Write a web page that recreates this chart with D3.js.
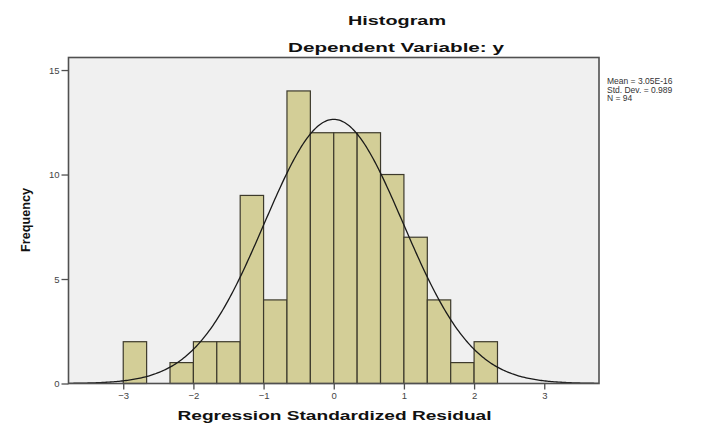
<!DOCTYPE html>
<html>
<head>
<meta charset="utf-8">
<script src="https://cdn.jsdelivr.net/npm/d3@7"></script>
<style>
  body { margin: 0; background: #ffffff; }
  svg text { font-family: Arial, "Liberation Sans", sans-serif; }
</style>
</head>
<body>
<svg id="chart" width="714" height="423"></svg>
<script>
// histogram bins (lower edge, upper edge) and counts
const binLow  = [-3, -8/3, -7/3, -2, -5/3, -4/3, -1, -2/3, -1/3, 0, 1/3, 2/3, 1, 4/3, 5/3, 2];
const binHigh = [-8/3, -7/3, -2, -5/3, -4/3, -1, -2/3, -1/3, 0, 1/3, 2/3, 1, 4/3, 5/3, 2, 7/3];
const counts  = [2, 0, 1, 2, 2, 9, 4, 14, 12, 12, 12, 10, 7, 4, 1, 2];

const xTicks = [-3, -2, -1, 0, 1, 2, 3];
const yTicks = [0, 5, 10, 15];

const statMean = 3.05e-16;
const statSd = 0.989;
const statN = 94;
const statLines = ["Mean = 3.05E-16", "Std. Dev. = 0.989", "N = 94"];

let chart = d3.select("#chart");

// plot frame
let plotLeft = 68.5, plotRight = 599, plotTop = 57.5, plotBottom = 383.5;

let x = d3.scaleLinear()
    .domain([-3.78, 3.78])
    .range([plotLeft, plotRight]);

let y = d3.scaleLinear()
    .domain([0, 15.6])
    .range([plotBottom, plotTop]);

// plot background
chart.append("rect")
    .attr("x", plotLeft)
    .attr("y", plotTop)
    .attr("width", plotRight - plotLeft)
    .attr("height", plotBottom - plotTop)
    .attr("fill", "#f0f0f0");

// bars
chart.selectAll(".bar")
    .data(counts.map(function(c, i) { return {lo: binLow[i], hi: binHigh[i], n: c}; })
        .filter(function(d) { return d.n > 0; }))
    .enter()
    .append("rect")
    .attr("class", "bar")
    .attr("x", function(d) { return x(d.lo); })
    .attr("y", function(d) { return y(d.n); })
    .attr("width", function(d) { return x(d.hi) - x(d.lo); })
    .attr("height", function(d) { return y(0) - y(d.n); })
    .attr("fill", "#d3ce97")
    .attr("stroke", "#3d3a2c")
    .attr("stroke-width", 1.2);

// normal curve
let binWidth = binHigh[0] - binLow[0];
let curvePts = d3.range(-3.78, 3.7801, 0.02).map(function(v) {
    let z = (v - statMean) / statSd;
    return [v, statN * binWidth * Math.exp(-0.5 * z * z) / (statSd * Math.sqrt(2 * Math.PI))];
});
chart.append("path")
    .datum(curvePts)
    .attr("fill", "none")
    .attr("stroke", "#1a1a1a")
    .attr("stroke-width", 1.3)
    .attr("d", d3.line()
        .x(function(d) { return x(d[0]); })
        .y(function(d) { return y(d[1]); }));

// frame
chart.append("rect")
    .attr("x", plotLeft)
    .attr("y", plotTop)
    .attr("width", plotRight - plotLeft)
    .attr("height", plotBottom - plotTop)
    .attr("fill", "none")
    .attr("stroke", "#505050")
    .attr("stroke-width", 1.6);

// x axis
let xAxis = d3.axisBottom(x)
    .tickValues(xTicks)
    .tickSize(6)
    .tickFormat(d3.format("d"));
let xAxisGroup = chart.append("g")
    .attr("transform", "translate(0," + plotBottom + ")")
    .call(xAxis);
xAxisGroup.select(".domain").remove();
xAxisGroup.selectAll("line").attr("stroke", "#505050").attr("stroke-width", 1.3);
xAxisGroup.selectAll("text")
    .attr("y", 9)
    .style("font-size", "9.5px")
    .style("fill", "#444");

// y axis
let yAxis = d3.axisLeft(y)
    .tickValues(yTicks)
    .tickSize(7);
let yAxisGroup = chart.append("g")
    .attr("transform", "translate(" + plotLeft + ",0)")
    .call(yAxis);
yAxisGroup.select(".domain").remove();
yAxisGroup.selectAll("line").attr("stroke", "#505050").attr("stroke-width", 1.3);
yAxisGroup.selectAll("text")
    .attr("x", -9)
    .style("font-size", "9.5px")
    .style("fill", "#444");

// titles
chart.append("text")
    .text("Histogram")
    .attr("x", 397)
    .attr("y", 25)
    .attr("text-anchor", "middle")
    .attr("textLength", 98)
    .attr("lengthAdjust", "spacingAndGlyphs")
    .style("font-size", "13.5px")
    .style("font-weight", "bold")
    .style("fill", "#111");

chart.append("text")
    .text("Dependent Variable: y")
    .attr("x", 396)
    .attr("y", 52)
    .attr("text-anchor", "middle")
    .attr("textLength", 216)
    .attr("lengthAdjust", "spacingAndGlyphs")
    .style("font-size", "13.5px")
    .style("font-weight", "bold")
    .style("fill", "#111");

chart.append("text")
    .text("Regression Standardized Residual")
    .attr("x", 334.5)
    .attr("y", 420)
    .attr("text-anchor", "middle")
    .attr("textLength", 314)
    .attr("lengthAdjust", "spacingAndGlyphs")
    .style("font-size", "13px")
    .style("font-weight", "bold")
    .style("fill", "#111");

chart.append("text")
    .text("Frequency")
    .attr("transform", "translate(30,220) rotate(-90)")
    .attr("text-anchor", "middle")
    .attr("textLength", 64)
    .attr("lengthAdjust", "spacingAndGlyphs")
    .style("font-size", "13px")
    .style("font-weight", "bold")
    .style("fill", "#111");

// stats legend
chart.selectAll(".stat")
    .data(statLines)
    .enter()
    .append("text")
    .attr("class", "stat")
    .attr("x", 607)
    .attr("y", function(d, i) { return 84 + i * 8.5; })
    .text(function(d) { return d; })
    .style("font-size", "8.5px")
    .style("fill", "#333");
</script>
</body>
</html>
